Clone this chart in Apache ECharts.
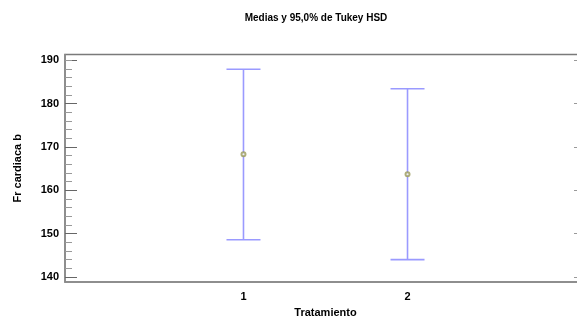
<!DOCTYPE html>
<html>
<head>
<meta charset="utf-8">
<script src="https://cdn.jsdelivr.net/npm/echarts@6/dist/echarts.min.js"></script>
<style>html,body{margin:0;padding:0;background:#fff;}#c{width:577px;height:320px;}</style>
</head>
<body>
<div id="c"></div>
<script>
var categories = [1, 2];
var means = [168.3, 163.7];
var lowers = [148.6, 144.0];
var uppers = [187.9, 183.4];
var yTicks = [140, 150, 160, 170, 180, 190];
var yMinorTicks = [142, 144, 146, 148, 152, 154, 156, 158, 162, 164, 166, 168, 172, 174, 176, 178, 182, 184, 186, 188, 190];

var chart = echarts.init(document.getElementById('c'), null, {renderer: 'canvas'});
var font = 'Liberation Sans, Arial, sans-serif';

var barData = categories.map(function (c, i) { return [c, lowers[i], uppers[i]]; });
var meanData = categories.map(function (c, i) { return [c, means[i]]; });

var yBase = {type: 'value', min: 138.85, max: 191.3, splitLine: {show: false}};

chart.setOption({
  animation: false,
  backgroundColor: '#fff',
  title: {
    text: 'Medias y 95,0% de Tukey HSD',
    left: 311, top: 8, textAlign: 'center',
    textStyle: {fontFamily: font, fontSize: 10, fontWeight: 'bold', color: '#000'}
  },
  grid: {left: 65, top: 54.5, height: 227.5, width: 521, containLabel: false, outerBoundsMode: 'none', show: true, borderColor: '#7a7a7a', borderWidth: 1.5, backgroundColor: '#fff'},
  xAxis: {
    type: 'value', min: -0.088, max: 3.088,
    name: 'Tratamiento', nameLocation: 'middle', nameGap: 25,
    nameTextStyle: {fontFamily: font, fontSize: 11, fontWeight: 'bold', color: '#000'},
    axisLine: {show: true, onZero: false, lineStyle: {color: '#8a8a8a', width: 1.5}},
    axisTick: {show: false},
    splitLine: {show: false},
    axisLabel: {customValues: categories, margin: 9, fontFamily: font, fontSize: 11, fontWeight: 'bold', color: '#000'}
  },
  yAxis: [
    Object.assign({}, yBase, {
      position: 'left',
      name: 'Fr cardiaca b', nameLocation: 'middle', nameGap: 42,
      nameTextStyle: {fontFamily: font, fontSize: 11, fontWeight: 'bold', color: '#000'},
      axisLine: {show: true, onZero: false, lineStyle: {color: '#8a8a8a', width: 1.5}},
      axisTick: {show: true, inside: true, length: 12, customValues: yTicks, lineStyle: {color: '#666', width: 1}},
      axisLabel: {customValues: yTicks, margin: 6, fontFamily: font, fontSize: 11, fontWeight: 'bold', color: '#000'}
    }),
    Object.assign({}, yBase, {
      position: 'left',
      axisLine: {show: false, onZero: false},
      axisTick: {show: true, inside: true, length: 7, customValues: yMinorTicks, lineStyle: {color: '#999', width: 1}},
      axisLabel: {show: false}
    }),
    Object.assign({}, yBase, {
      position: 'right',
      axisLine: {show: false, onZero: false},
      axisTick: {show: true, inside: true, length: 12, customValues: yTicks, lineStyle: {color: '#999', width: 1}},
      axisLabel: {show: false}
    })
  ],
  series: [
    {
      type: 'custom',
      data: barData,
      renderItem: function (params, api) {
        var x = api.value(0);
        var lo = api.coord([x, api.value(1)]);
        var hi = api.coord([x, api.value(2)]);
        var hw = 17;
        var st = {stroke: '#9a9aff', lineWidth: 1.6};
        return {
          type: 'group',
          children: [
            {type: 'line', shape: {x1: lo[0], y1: lo[1], x2: hi[0], y2: hi[1]}, style: st},
            {type: 'line', shape: {x1: lo[0] - hw, y1: lo[1], x2: lo[0] + hw, y2: lo[1]}, style: st},
            {type: 'line', shape: {x1: hi[0] - hw, y1: hi[1], x2: hi[0] + hw, y2: hi[1]}, style: st}
          ]
        };
      },
      z: 2
    },
    {
      type: 'scatter',
      data: meanData,
      symbol: 'emptyCircle',
      symbolSize: 4,
      itemStyle: {color: '#9a9a5a', borderWidth: 1},
      z: 3
    }
  ]
});
</script>
</body>
</html>
